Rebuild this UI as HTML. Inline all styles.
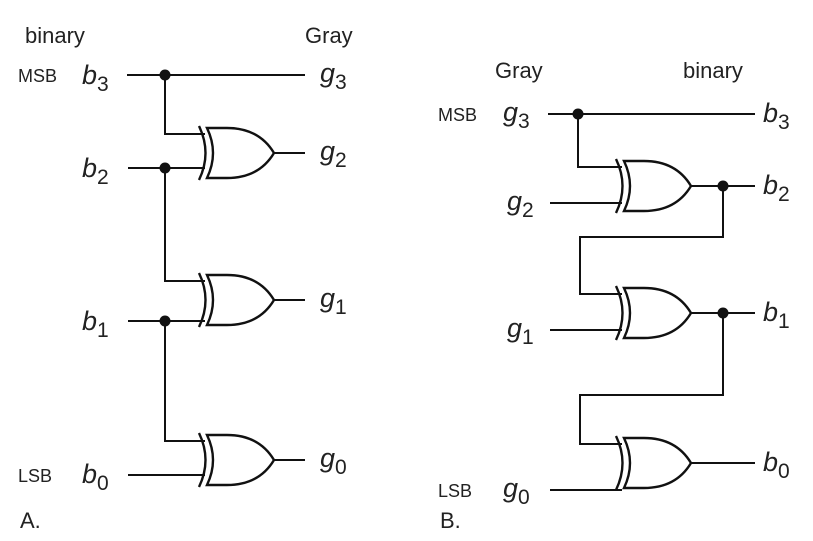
<!DOCTYPE html>
<html><head><style>
body{margin:0;background:#fff;}
svg{display:block;}
text{font-family:"Liberation Sans",sans-serif;fill:#222;}
.v{font-style:italic;font-size:27px;}
.s{font-size:18px;}
.h{font-size:22px;}
</style></head><body>
<svg width="813" height="541" viewBox="0 0 813 541" xmlns="http://www.w3.org/2000/svg">
<defs>
<g id="x">
<path d="M0,-25 L20,-25 Q52,-25 67,0 Q52,25 20,25 L0,25 Q12,0 0,-25 Z" fill="#fff" stroke="#111" stroke-width="2.4"/>
<path d="M-8,-27 Q5,0 -8,27" fill="none" stroke="#111" stroke-width="2.4"/>
</g>
</defs>
<g stroke="#111" stroke-width="2" fill="none">
<path d="M127,75 H305"/>
<path d="M165,75 V134 H205"/>
<path d="M128,168 H205"/>
<path d="M165,168 V281 H205"/>
<path d="M128,321 H205"/>
<path d="M165,321 V441 H205"/>
<path d="M128,475 H205"/>
<path d="M274,153 H305 M274,300 H305 M274,460 H305"/>
<path d="M548,114 H755"/>
<path d="M578,114 V167 H622"/>
<path d="M550,203 H622"/>
<path d="M689,186 H755"/>
<path d="M723,186 V237 H580 V294 H622"/>
<path d="M550,330 H622"/>
<path d="M689,313 H755"/>
<path d="M723,313 V395 H580 V444 H622"/>
<path d="M550,490 H622"/>
<path d="M689,463 H755"/>
</g>
<use href="#x" x="207" y="153"/>
<use href="#x" x="207" y="300"/>
<use href="#x" x="207" y="460"/>
<use href="#x" x="624" y="186"/>
<use href="#x" x="624" y="313"/>
<use href="#x" x="624" y="463"/>
<g fill="#111">
<circle cx="165" cy="75" r="5.5"/><circle cx="165" cy="168" r="5.5"/><circle cx="165" cy="321" r="5.5"/>
<circle cx="578" cy="114" r="5.5"/><circle cx="723" cy="186" r="5.5"/><circle cx="723" cy="313" r="5.5"/>
</g>
<text class="h" x="25" y="43">binary</text>
<text class="h" x="305" y="43">Gray</text>
<text class="h" x="495" y="78">Gray</text>
<text class="h" x="683" y="78">binary</text>
<text class="s" x="18" y="82">MSB</text>
<text class="v" x="82" y="84">b<tspan font-style="normal" font-size="21" dy="7">3</tspan></text>
<text class="v" x="82" y="177">b<tspan font-style="normal" font-size="21" dy="7">2</tspan></text>
<text class="v" x="82" y="330">b<tspan font-style="normal" font-size="21" dy="7">1</tspan></text>
<text class="s" x="18" y="482">LSB</text>
<text class="v" x="82" y="483">b<tspan font-style="normal" font-size="21" dy="7">0</tspan></text>
<text class="v" x="320" y="82">g<tspan font-style="normal" font-size="21" dy="7">3</tspan></text>
<text class="v" x="320" y="160">g<tspan font-style="normal" font-size="21" dy="7">2</tspan></text>
<text class="v" x="320" y="307">g<tspan font-style="normal" font-size="21" dy="7">1</tspan></text>
<text class="v" x="320" y="467">g<tspan font-style="normal" font-size="21" dy="7">0</tspan></text>
<text class="s" x="438" y="121">MSB</text>
<text class="v" x="503" y="121">g<tspan font-style="normal" font-size="21" dy="7">3</tspan></text>
<text class="v" x="507" y="210">g<tspan font-style="normal" font-size="21" dy="7">2</tspan></text>
<text class="v" x="507" y="337">g<tspan font-style="normal" font-size="21" dy="7">1</tspan></text>
<text class="s" x="438" y="497">LSB</text>
<text class="v" x="503" y="497">g<tspan font-style="normal" font-size="21" dy="7">0</tspan></text>
<text class="v" x="763" y="122">b<tspan font-style="normal" font-size="21" dy="7">3</tspan></text>
<text class="v" x="763" y="194">b<tspan font-style="normal" font-size="21" dy="7">2</tspan></text>
<text class="v" x="763" y="321">b<tspan font-style="normal" font-size="21" dy="7">1</tspan></text>
<text class="v" x="763" y="471">b<tspan font-style="normal" font-size="21" dy="7">0</tspan></text>
<text class="h" x="20" y="528">A.</text>
<text class="h" x="440" y="528">B.</text>
</svg>
</body></html>
